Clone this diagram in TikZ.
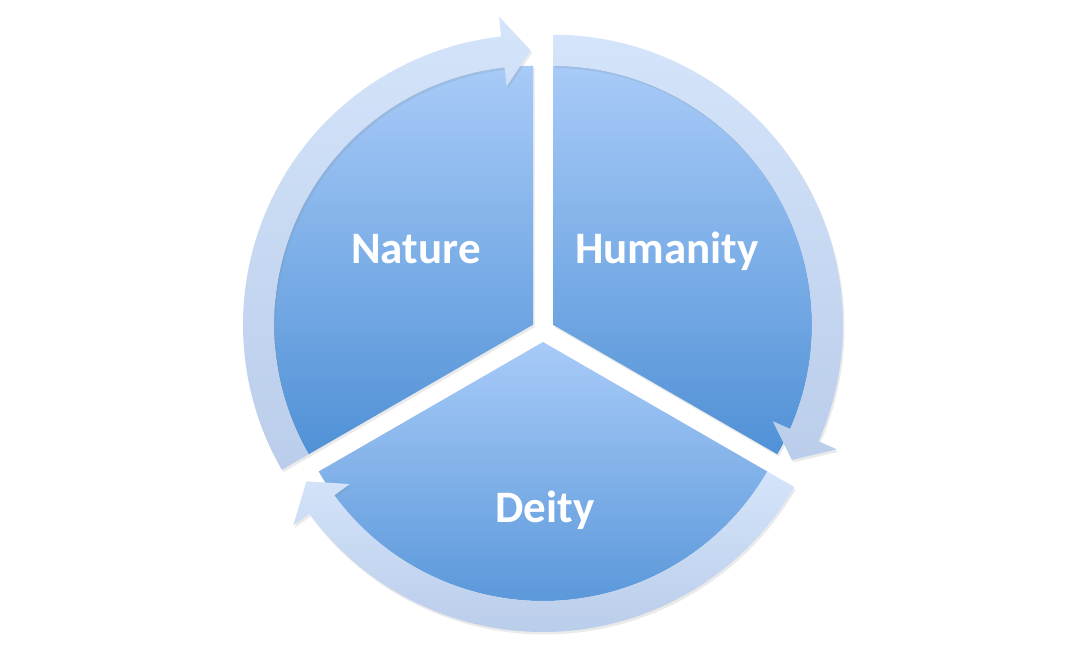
\documentclass[tikz,border=0pt]{standalone}
\usepackage{fontspec}
\newfontfamily\lblfont{Carlito}
\usetikzlibrary{shadows}
\definecolor{pietop}{RGB}{168,203,248}
\definecolor{piebot}{RGB}{80,145,214}
\definecolor{ringtop}{RGB}{212,228,250}
\definecolor{ringbot}{RGB}{186,205,234}
\tikzset{
  softshadow/.style={drop shadow={opacity=0.16, shadow xshift=1.5pt, shadow yshift=-2.5pt}},
  wedge/.style={top color=pietop, bottom color=piebot, softshadow},
  ringarrow/.style={top color=ringtop, bottom color=ringbot, softshadow},
  lbl/.style={text=white, font=\lblfont\bfseries\fontsize{45}{52}\selectfont, anchor=base, inner sep=0pt}
}
\newcommand\wedgepath[2]{%
  \path[wedge] (0,0) -- (#1:259pt) arc[start angle=#1, end angle=#2, radius=259pt] -- cycle;}
\newcommand\ringarrowpath[2]{% #1 tail angle, #2 head angle
  \pgfmathsetmacro\baseang{#2+6.3}%
  \pgfmathsetmacro\tipang{#2+0.5}%
  \path[ringarrow] (#1:259pt) -- (#1:290pt)
    arc[start angle=#1, end angle=\baseang, radius=290pt]
    -- (\baseang:310pt) -- (\tipang:274.5pt) -- (\baseang:240pt) -- (\baseang:259pt)
    arc[start angle=\baseang, end angle=#1, radius=259pt] -- cycle;}
\begin{document}
\begin{tikzpicture}[x=1pt,y=1pt]
\useasboundingbox (0,0) rectangle (1082,664);
\fill[white] (0,0) rectangle (1082,664);
% wedges
\begin{scope}[shift={(533,339.25)}]\wedgepath{90}{210}\end{scope}
\begin{scope}[shift={(553,339.25)}]\wedgepath{-30}{90}\end{scope}
\begin{scope}[shift={(543,322)}]\wedgepath{210}{330}\end{scope}
% arrows
\begin{scope}[shift={(533,339.25)}]\ringarrowpath{210}{90}\end{scope}
\begin{scope}[shift={(553,339.25)}]\ringarrowpath{90}{-30}\end{scope}
\begin{scope}[shift={(543,322)}]\ringarrowpath{330}{210}\end{scope}
% labels
\node[lbl] (nature) at (416,400) {Nature};
\node[lbl] (humanity) at (667,400) {Humanity};
\node[lbl] (deity) at (545,141) {Deity};
\end{tikzpicture}
\end{document}
